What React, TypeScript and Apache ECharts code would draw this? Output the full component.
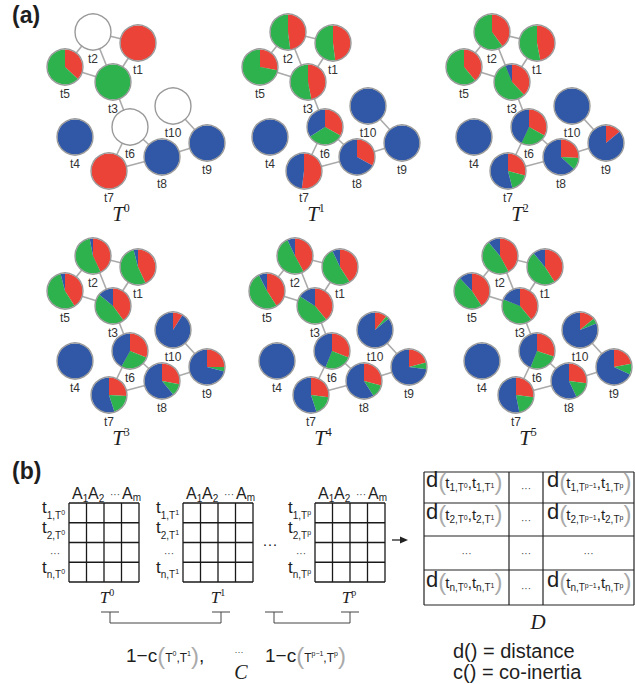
import React, { useEffect, useRef } from "react";
import * as echarts from "echarts";

// ---------- network data ----------
const NODE_NAMES = ["t1", "t2", "t3", "t4", "t5", "t6", "t7", "t8", "t9", "t10"];
const NODE_X = [138, 93, 113, 75, 65, 130, 109, 162, 207, 173];
const NODE_Y = [43, 32, 82, 137, 67, 127, 171, 157, 143, 106];
const EDGES: [string, string][] = [
  ["t2", "t1"], ["t2", "t5"], ["t2", "t3"], ["t1", "t3"], ["t5", "t3"],
  ["t3", "t6"], ["t6", "t7"], ["t6", "t8"], ["t7", "t8"], ["t8", "t9"], ["t9", "t10"],
];
const PANEL_SUP = ["0", "1", "2", "3", "4", "5"];
const PANEL_DX = [0, 195, 399, 0, 202, 407];
const PANEL_DY = [0, 0, 0, 224, 224, 224];

// shares [red, green, blue] per node t1..t10 ; null = unlabelled (white)
type Share = [number, number, number] | null;
const SHARES_T0: Share[] = [[1, 0, 0], null, [0, 1, 0], [0, 0, 1], [0.37, 0.63, 0], null, [1, 0, 0], [0, 0, 1], [0, 0, 1], null];
const SHARES_T1: Share[] = [[0.48, 0.52, 0], [0.48, 0.52, 0], [0.47, 0.53, 0], [0, 0, 1], [0.28, 0.72, 0], [0.33, 0.33, 0.34], [0.52, 0, 0.48], [0.33, 0, 0.67], [0, 0, 1], [0, 0, 1]];
const SHARES_T2: Share[] = [[0.47, 0.53, 0], [0.4, 0.6, 0], [0.38, 0.56, 0.06], [0, 0, 1], [0.39, 0.61, 0], [0.33, 0.24, 0.43], [0.29, 0.17, 0.54], [0.26, 0.11, 0.63], [0.14, 0, 0.86], [0, 0, 1]];
const SHARES_T3: Share[] = [[0.43, 0.53, 0.04], [0.43, 0.54, 0.03], [0.4, 0.46, 0.14], [0, 0, 1], [0.41, 0.55, 0.04], [0.31, 0.27, 0.42], [0.26, 0.19, 0.55], [0.28, 0.11, 0.61], [0.25, 0.04, 0.71], [0.09, 0, 0.91]];
const SHARES_T4: Share[] = [[0.41, 0.52, 0.07], [0.42, 0.51, 0.07], [0.39, 0.45, 0.16], [0, 0, 1], [0.41, 0.515, 0.075], [0.31, 0.25, 0.44], [0.27, 0.18, 0.55], [0.29, 0.12, 0.59], [0.21, 0.06, 0.73], [0.11, 0.03, 0.86]];
const SHARES_T5: Share[] = [[0.41, 0.48, 0.11], [0.42, 0.47, 0.11], [0.39, 0.42, 0.19], [0, 0, 1], [0.41, 0.47, 0.12], [0.3, 0.26, 0.44], [0.27, 0.2, 0.53], [0.27, 0.16, 0.57], [0.22, 0.1, 0.68], [0.14, 0.05, 0.81]];
const PANEL_SHARES = [SHARES_T0, SHARES_T1, SHARES_T2, SHARES_T3, SHARES_T4, SHARES_T5];

// ---------- styles ----------
const RED = "#ec4339";
const GREEN = "#2eb24e";
const BLUE = "#3158a6";
const SANS = '"Liberation Sans", Arial, sans-serif';
const SERIF = '"Liberation Serif", "Times New Roman", serif';

let measureCtx: CanvasRenderingContext2D | null = null;
function textWidth(t: string, font: string) {
  if (!measureCtx) measureCtx = document.createElement("canvas").getContext("2d");
  measureCtx!.font = font;
  return measureCtx!.measureText(t).width;
}

type Tok = { t: string; s: number; dy?: number; it?: boolean; f?: string; c?: string; w?: string; g?: number };
function run(x: number, base: number, toks: Tok[], align: "left" | "center" = "left"): any[] {
  const fonts = toks.map((k) => `${k.it ? "italic " : ""}${k.w || "normal"} ${k.s}px ${k.f || SANS}`);
  const widths = toks.map((k, i) => textWidth(k.t, fonts[i]) + (k.g || 0));
  const total = widths.reduce((a, b) => a + b, 0);
  let cx = align === "center" ? x - total / 2 : x;
  const out: any[] = [];
  toks.forEach((k, i) => {
    out.push({
      type: "text",
      x: cx,
      y: base + (k.dy || 0) - 0.35 * k.s,
      silent: true,
      z: 10,
      style: {
        text: k.t,
        font: fonts[i],
        fill: k.c || "#1e1e1e",
        textAlign: "left",
        align: "left",
        textVerticalAlign: "middle",
        verticalAlign: "middle",
      },
    });
    cx += widths[i];
  });
  return out;
}
function dots(xc: number, yc: number, s: number, c = "#444"): any {
  return {
    type: "text", x: xc, y: yc + 0.08 * s, silent: true, z: 10,
    style: { text: "···", font: `normal ${s}px ${SANS}`, fill: c, textAlign: "center", align: "center", textVerticalAlign: "middle", verticalAlign: "middle" },
  };
}
function seg(x1: number, y1: number, x2: number, y2: number, w = 1.3, c = "#1a1a1a"): any {
  return { type: "line", silent: true, z: 10, shape: { x1, y1, x2, y2 }, style: { stroke: c, lineWidth: w } };
}

function buildGraphics(): any[] {
  const g: any[] = [];
  // panel letters
  g.push(...run(12, 23, [{ t: "(a)", s: 23, w: "bold" }]));
  g.push(...run(12, 479, [{ t: "(b)", s: 23, w: "bold" }]));
  // T^k titles
  PANEL_SUP.forEach((sup, p) => {
    g.push(...run(121 + PANEL_DX[p], 221 + PANEL_DY[p], [
      { t: "T", s: 21, it: true, f: SERIF },
      { t: sup, s: 12, f: SERIF, dy: -9 },
    ], "center"));
  });

  // matrices
  const MX = [69, 183, 315];
  const MSUP = ["0", "1", "p"];
  const top = 503, cw = 17.5, rh = 19.75;
  MX.forEach((x0, m) => {
    for (let i = 0; i <= 4; i++) {
      g.push(seg(x0 + i * cw, top, x0 + i * cw, top + 4 * rh));
      g.push(seg(x0, top + i * rh, x0 + 4 * cw, top + i * rh));
    }
    // column headers
    g.push(...run(x0 + 3, 499, [{ t: "A", s: 16 }, { t: "1", s: 10, dy: 3, g: 0 }]));
    g.push(...run(x0 + 19, 499, [{ t: "A", s: 16 }, { t: "2", s: 10, dy: 3 }]));
    g.push(dots(x0 + 46, 494, 10));
    g.push(...run(x0 + 53, 499, [{ t: "A", s: 16 }, { t: "m", s: 10, dy: 2 }]));
    // row labels
    const rows = ["1", "2", "", "n"];
    rows.forEach((r, i) => {
      const yc = top + rh * (i + 0.5);
      if (!r) {
        g.push(dots(x0 - 14, yc, 10));
        return;
      }
      g.push(...run(x0 - 27, yc + 1, [
        { t: "t", s: 17 },
        { t: r + ",T", s: 10, dy: 5 },
        { t: MSUP[m], s: 7, dy: 1 },
      ]));
    });
  });
  g.push(dots(270, 542, 15, "#222"));
  // arrow
  g.push(seg(392, 540, 404, 540, 1.3, "#222"));
  g.push({ type: "polygon", silent: true, z: 10, shape: { points: [[400, 536.5], [408, 540], [400, 543.5]] }, style: { fill: "#222" } });

  // table D
  const TX = [424, 509, 543, 634];
  const TY = [472, 503, 536, 570, 605];
  TX.forEach((x) => g.push(seg(x, TY[0], x, TY[4], 1.2, "#222")));
  TY.forEach((y) => g.push(seg(TX[0], y, TX[3], y, 1.2, "#222")));
  const cell = (x: number, base: number, i: string, a: string, b: string) => run(x, base, [
    { t: "d", s: 22 },
    { t: "(", s: 24, c: "#aaa", dy: 2, g: -1 },
    { t: "t", s: 15 },
    { t: i + ",T", s: 10, dy: 3 },
    { t: a, s: 7, dy: 0 },
    { t: ",t", s: 15 },
    { t: i + ",T", s: 10, dy: 3 },
    { t: b, s: 7, dy: 0 },
    { t: ")", s: 24, c: "#aaa", dy: 2 },
  ]);
  const tRows = ["1", "2", "", "n"];
  tRows.forEach((r, k) => {
    const yc = (TY[k] + TY[k + 1]) / 2;
    if (!r) {
      g.push(dots((TX[0] + TX[1]) / 2, yc, 10));
      g.push(dots((TX[1] + TX[2]) / 2, yc, 10));
      g.push(dots((TX[2] + TX[3]) / 2, yc, 10));
      return;
    }
    g.push(...cell(426, yc, r, "0", "1"));
    g.push(dots((TX[1] + TX[2]) / 2, yc, 10));
    g.push(...cell(547, yc, r, "p−1", "p"));
  });
  g.push(...run(538, 629, [{ t: "D", s: 21, it: true, f: SERIF }], "center"));

  // T labels above brackets
  const BT: [number, string][] = [[107, "0"], [218, "1"], [349, "p"]];
  BT.forEach(([x, s]) => g.push(...run(x, 603, [{ t: "T", s: 17, it: true, f: SERIF }, { t: s, s: 10, f: SERIF, dy: -7 }], "center")));
  // brackets
  const brackets: [number, number][] = [[110, 221], [274, 350]];
  brackets.forEach(([a, b]) => {
    g.push(seg(a - 9, 612, a + 9, 612, 1, "#444"));
    g.push(seg(b - 9, 612, b + 9, 612, 1, "#444"));
    g.push({ type: "polyline", silent: true, z: 10, shape: { points: [[a, 612], [a, 623], [b, 623], [b, 612]] }, style: { stroke: "#444", lineWidth: 1, fill: null } });
  });
  // C formulas
  g.push(...run(126, 662, [
    { t: "1−c", s: 19 },
    { t: "(", s: 24, c: "#aaa", dy: 2 },
    { t: "T", s: 12 },
    { t: "0", s: 7, dy: -6 },
    { t: ",", s: 12 },
    { t: "T", s: 12 },
    { t: "1", s: 7, dy: -6 },
    { t: ")", s: 24, c: "#aaa", dy: 2 },
    { t: ",", s: 19 },
  ]));
  g.push(dots(239, 651, 9));
  g.push(...run(265, 662, [
    { t: "1−c", s: 19 },
    { t: "(", s: 24, c: "#aaa", dy: 2 },
    { t: "T", s: 12 },
    { t: "p−1", s: 7, dy: -6 },
    { t: ",", s: 12 },
    { t: "T", s: 12 },
    { t: "p", s: 7, dy: -6 },
    { t: ")", s: 24, c: "#aaa", dy: 2 },
  ]));
  g.push(...run(241, 679, [{ t: "C", s: 20, it: true, f: SERIF }], "center"));
  g.push(...run(453, 658, [{ t: "d() = distance", s: 20 }]));
  g.push(...run(453, 679, [{ t: "c() = co-inertia", s: 20 }]));
  return g;
}

export default function App() {
  const ref = useRef<HTMLDivElement>(null);
  useEffect(() => {
    document.body.style.margin = "0";
    const chart = echarts.init(ref.current!, null, { renderer: "svg" });

    const lineData: any[] = [];
    const nodeData: any[] = [];
    PANEL_DX.forEach((dx, p) => {
      const dy = PANEL_DY[p];
      EDGES.forEach(([a, b]) => {
        const i = NODE_NAMES.indexOf(a), j = NODE_NAMES.indexOf(b);
        lineData.push({ coords: [[NODE_X[i] + dx, NODE_Y[i] + dy], [NODE_X[j] + dx, NODE_Y[j] + dy]] });
      });
      NODE_NAMES.forEach((n, i) => nodeData.push({ name: n, value: [NODE_X[i] + dx, NODE_Y[i] + dy] }));
    });

    const linesSeries = {
      type: "lines", coordinateSystem: "cartesian2d", polyline: false, silent: true, z: 1,
      lineStyle: { color: "#aaaaaa", width: 1.6, opacity: 1, curveness: 0 },
      data: lineData,
    };
    const scatterSeries = {
      type: "scatter", coordinateSystem: "cartesian2d", silent: true, z: 4,
      symbol: "circle", symbolSize: 36,
      itemStyle: { color: "rgba(255,255,255,0)", borderColor: "#9a9a9a", borderWidth: 1.4, opacity: 1 },
      label: { show: true, position: "inside", offset: [0, 27], formatter: "{b}", color: "#333", fontSize: 12, fontFamily: SANS },
      emphasis: { disabled: true },
      data: nodeData,
    };
    chart.setOption({
      animation: false,
      grid: { left: 0, right: 0, top: 0, bottom: 0 },
      xAxis: { type: "value", min: 0, max: 635, show: false },
      yAxis: { type: "value", min: 0, max: 684, inverse: true, show: false },
      series: [linesSeries, scatterSeries],
    });

    const pies: any[] = [];
    PANEL_SHARES.forEach((shares, p) => {
      shares.forEach((sh, i) => {
        const c = chart.convertToPixel({ gridIndex: 0 } as any, [NODE_X[i] + PANEL_DX[p], NODE_Y[i] + PANEL_DY[p]]) as number[];
        const data = sh === null
          ? [{ value: 1, itemStyle: { color: "#ffffff" } }]
          : [
              { value: sh[0], itemStyle: { color: RED } },
              { value: sh[1], itemStyle: { color: GREEN } },
              { value: sh[2], itemStyle: { color: BLUE } },
            ].filter((d) => d.value > 0);
        pies.push({
          type: "pie", z: 2, silent: true, center: c, radius: 17.6,
          startAngle: 90, clockwise: true, avoidLabelOverlap: false,
          label: { show: false }, labelLine: { show: false },
          itemStyle: { borderWidth: 0 },
          emphasis: { disabled: true },
          data,
        });
      });
    });

    chart.setOption({ series: [linesSeries, scatterSeries, ...pies], graphic: { elements: buildGraphics() } });
    return () => chart.dispose();
  }, []);
  return <div ref={ref} style={{ position: "absolute", left: 0, top: 0, width: 635, height: 684 }} />;
}
